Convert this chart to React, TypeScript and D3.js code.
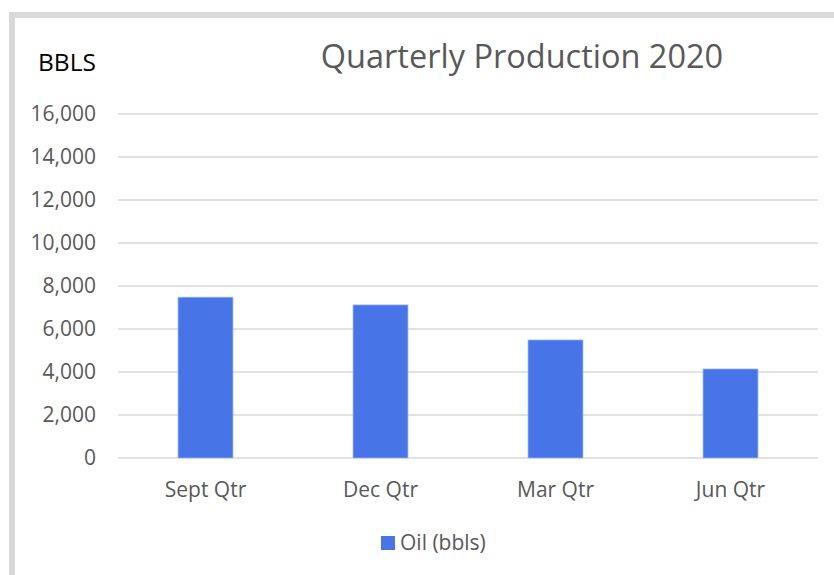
import React from "react";
import * as d3 from "d3";

const quarters = ["Sept Qtr", "Dec Qtr", "Mar Qtr", "Jun Qtr"];
const oilBbls = [7480, 7120, 5490, 4140];
const yTicks = [0, 2000, 4000, 6000, 8000, 10000, 12000, 14000, 16000];
const seriesName = "Oil (bbls)";
const chartTitle = "Quarterly Production 2020";
const unitLabel = "BBLS";

const width = 834;
const height = 575;
const plot = { left: 118, right: 818, top: 114, bottom: 458 };
const barColor = "#4775e7";
const textColor = "#595959";
const font = "'Open Sans', 'Noto Sans', sans-serif";

const App = () => {
    const xScale = d3
        .scaleBand()
        .domain(quarters)
        .range([plot.left, plot.right])
        .paddingInner(0.686)
        .paddingOuter(0.343);
    const yScale = d3
        .scaleLinear()
        .domain([0, 16000])
        .range([plot.bottom, plot.top]);
    const fmt = d3.format(",");

    return (
        <svg
            width={width}
            height={height}
            style={{ position: "absolute", left: 0, top: 0, display: "block" }}
        >
            <rect x={0} y={0} width={width} height={height} fill="#fff" />
            {/* frame of the chart area */}
            <rect x={9} y={12} width={width} height={6} fill="#d9d9d9" />
            <rect x={9} y={12} width={6} height={height} fill="#d9d9d9" />

            <text
                x={38}
                y={71}
                fontFamily={font}
                fontSize={24.5}
                fill="#000"
            >
                {unitLabel}
            </text>
            <text
                x={522}
                y={68}
                textAnchor="middle"
                fontFamily={font}
                fontSize={32.5}
                fill={textColor}
            >
                {chartTitle}
            </text>

            <g className="grid">
                {yTicks.map(t => (
                    <line
                        key={t}
                        x1={plot.left}
                        x2={plot.right}
                        y1={yScale(t)}
                        y2={yScale(t)}
                        stroke="#d9d9d9"
                        strokeWidth={1.5}
                    />
                ))}
            </g>
            <g className="axis axis--y">
                {yTicks.map(t => (
                    <text
                        key={t}
                        x={96}
                        y={yScale(t)}
                        dy="0.35em"
                        textAnchor="end"
                        fontFamily={font}
                        fontSize={21}
                        fill={textColor}
                    >
                        {fmt(t)}
                    </text>
                ))}
            </g>

            <g className="bars">
                {quarters.map((q, i) => (
                    <rect
                        key={q}
                        x={xScale(q)}
                        y={yScale(oilBbls[i])}
                        width={xScale.bandwidth()}
                        height={yScale(0) - yScale(oilBbls[i])}
                        fill={barColor}
                        stroke="#9fb8f5"
                        strokeWidth={0.75}
                    />
                ))}
            </g>

            <g className="axis axis--x">
                {quarters.map(q => (
                    <text
                        key={q}
                        x={(xScale(q) as number) + xScale.bandwidth() / 2}
                        y={497}
                        textAnchor="middle"
                        fontFamily={font}
                        fontSize={21}
                        fill={textColor}
                    >
                        {q}
                    </text>
                ))}
            </g>

            <g className="legend">
                <rect x={381} y={536} width={14} height={14} fill={barColor} />
                <text
                    x={400}
                    y={550}
                    fontFamily={font}
                    fontSize={21}
                    fill={textColor}
                >
                    {seriesName}
                </text>
            </g>
        </svg>
    );
};

export default App;
